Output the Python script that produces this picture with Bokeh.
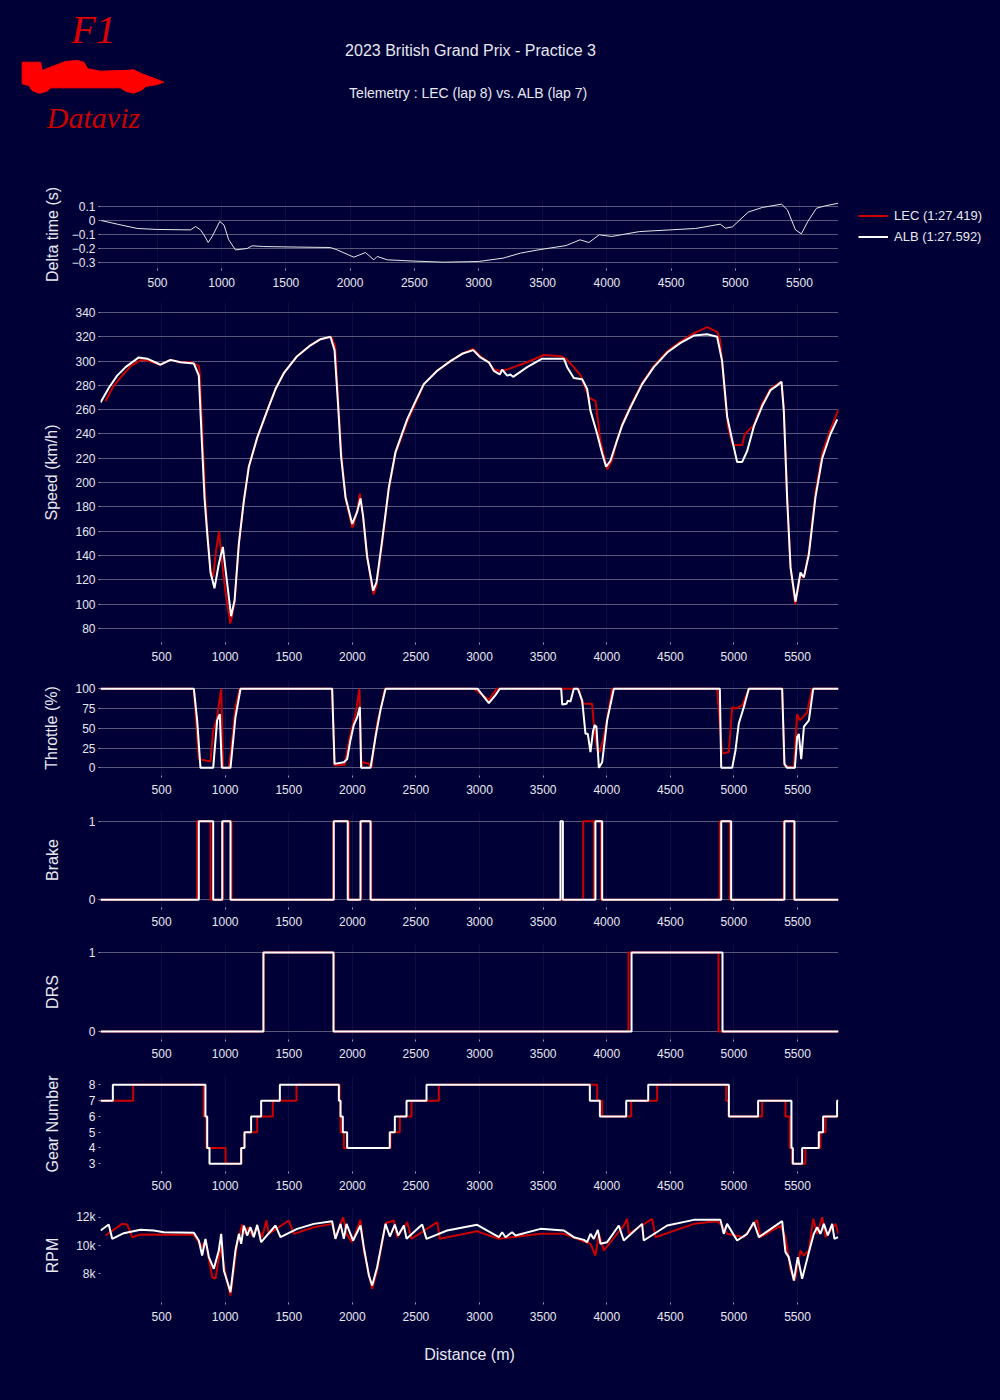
from bokeh.plotting import figure
from bokeh.layouts import column, row
from bokeh.models import Range1d, FixedTicker, Legend, LegendItem
from bokeh.embed import file_html
from bokeh.resources import INLINE
from bokeh.core.properties import value

# ---------------- texts ----------------
TITLE = "2023 British Grand Prix - Practice 3"
SUBTITLE = "Telemetry :  LEC (lap 8) vs. ALB (lap 7)"
LEC_LABEL = "LEC (1:27.419)"
ALB_LABEL = "ALB (1:27.592)"
X_TICKS = [500, 1000, 1500, 2000, 2500, 3000, 3500, 4000, 4500, 5000, 5500]

# ---------------- data (distance m, value) ----------------
delta_pts = [(61, 0), (186, -0.026), (342, -0.057), (497, -0.064), (757, -0.067), (796, -0.043),
             (835, -0.067), (861, -0.102), (895, -0.157), (926, -0.114), (985, -0.007), (1017, -0.031),
             (1055, -0.138), (1107, -0.21), (1198, -0.2), (1237, -0.181), (1328, -0.186), (1588, -0.19),
             (1847, -0.193), (1899, -0.21), (2029, -0.262), (2120, -0.229), (2185, -0.281), (2211, -0.257),
             (2289, -0.281), (2496, -0.29), (2730, -0.298), (3000, -0.293), (3191, -0.269), (3328, -0.233),
             (3464, -0.21), (3682, -0.179), (3791, -0.138), (3860, -0.157), (3941, -0.102), (4037, -0.114),
             (4255, -0.079), (4692, -0.057), (4883, -0.026), (4924, -0.055), (4978, -0.045), (5101, 0.06),
             (5210, 0.093), (5360, 0.117), (5406, 0.076), (5469, -0.067), (5515, -0.095), (5565, -0.007),
             (5633, 0.088), (5701, 0.105), (5805, 0.124)]

alb_speed = [(20, 266), (86, 278), (151, 288), (217, 295), (321, 303), (387, 302), (492, 297), (570, 301),
             (649, 299), (754, 298), (793, 288), (819, 229), (838, 187), (859, 158), (885, 126), (916, 113),
             (950, 133), (982, 147), (1016, 117), (1047, 90), (1074, 103), (1108, 150), (1147, 185),
             (1186, 213), (1252, 237), (1330, 259), (1396, 277), (1461, 290), (1566, 304), (1671, 313),
             (1750, 318), (1828, 320), (1860, 309), (1886, 267), (1912, 221), (1946, 188), (1999, 166),
             (2038, 176), (2064, 187), (2085, 172), (2116, 139), (2164, 111), (2190, 118), (2234, 152),
             (2287, 196), (2339, 225), (2431, 252), (2497, 267), (2562, 281), (2667, 292), (2771, 300),
             (2863, 306), (2950, 309), (3007, 303), (3073, 299), (3112, 292), (3159, 289), (3178, 293),
             (3217, 288), (3243, 289), (3264, 287), (3374, 295), (3492, 302), (3663, 302), (3689, 295),
             (3741, 286), (3807, 285), (3846, 277), (3872, 259), (3925, 240), (3964, 224), (3995, 213),
             (4029, 218), (4082, 235), (4121, 247), (4187, 262), (4278, 281), (4370, 295), (4475, 307),
             (4580, 315), (4685, 321), (4790, 322), (4868, 320), (4907, 300), (4947, 254), (4986, 235),
             (5025, 217), (5065, 217), (5104, 226), (5156, 246), (5222, 263), (5287, 276), (5340, 280),
             (5374, 283), (5392, 259), (5419, 185), (5445, 130), (5484, 102), (5523, 126), (5550, 122),
             (5589, 141), (5641, 188), (5694, 220), (5759, 240), (5812, 252)]

lec_speed = [(59, 267), (120, 279), (190, 288), (260, 296), (340, 301), (400, 300), (492, 297), (570, 301),
             (649, 299), (740, 299), (793, 296), (800, 290), (825, 230), (845, 185), (862, 158), (885, 128),
             (905, 122), (930, 145), (952, 160), (970, 140), (1000, 112), (1040, 84), (1050, 88), (1075, 102),
             (1108, 150), (1147, 185), (1186, 213), (1252, 237), (1330, 259), (1396, 277), (1461, 290),
             (1566, 304), (1671, 313), (1750, 318), (1835, 320), (1865, 312), (1890, 265), (1915, 221),
             (1950, 185), (1999, 163), (2010, 165), (2040, 178), (2058, 191), (2080, 175), (2116, 140),
             (2158, 112), (2166, 108), (2190, 115), (2234, 150), (2287, 195), (2339, 224), (2431, 250),
             (2500, 266), (2562, 281), (2667, 292), (2771, 300), (2863, 306), (2950, 310), (3007, 304),
             (3073, 299), (3112, 293), (3159, 292), (3217, 293), (3374, 299), (3505, 305), (3637, 304),
             (3680, 302), (3741, 295), (3795, 288), (3860, 270), (3912, 267), (3950, 234), (4003, 211),
             (4040, 218), (4082, 235), (4121, 248), (4187, 263), (4278, 282), (4370, 296), (4475, 308),
             (4580, 316), (4685, 323), (4790, 328), (4868, 324), (4890, 318), (4907, 300), (4935, 265),
             (4955, 245), (4990, 231), (5065, 231), (5085, 240), (5156, 247), (5222, 265), (5287, 277),
             (5340, 281), (5374, 283), (5392, 262), (5419, 187), (5445, 131), (5481, 100), (5523, 124),
             (5550, 122), (5589, 143), (5641, 192), (5694, 224), (5759, 244), (5822, 260)]

alb_throttle = [(20, 100), (754, 100), (780, 60), (806, 0), (906, 0), (937, 60), (958, 68), (974, 0),
                (1042, 0), (1081, 64), (1121, 100), (1841, 100), (1860, 5), (1933, 7), (1959, 11),
                (1985, 35), (2011, 54), (2038, 64), (2059, 77), (2069, 0), (2143, 0), (2182, 39),
                (2221, 73), (2261, 100), (2985, 100), (3073, 82), (3125, 92), (3159, 100), (3642, 100),
                (3650, 80), (3684, 81), (3694, 85), (3715, 84), (3741, 100), (3773, 100), (3807, 85),
                (3833, 43), (3851, 43), (3872, 20), (3893, 47), (3906, 54), (3919, 52), (3938, 0),
                (3964, 7), (4003, 60), (4056, 100), (4889, 100), (4900, 0), (4986, 0), (5012, 22),
                (5038, 56), (5078, 77), (5117, 100), (5379, 100), (5397, 5), (5418, 0), (5479, 0),
                (5497, 39), (5510, 43), (5529, 11), (5550, 52), (5589, 60), (5623, 100), (5822, 100)]

lec_throttle = [(20, 100), (754, 100), (793, 11), (885, 8), (906, 47), (932, 60), (969, 100), (984, 0),
                (1029, 0), (1055, 35), (1081, 77), (1115, 100), (1841, 100), (1860, 3), (1940, 4),
                (1980, 39), (2025, 68), (2056, 100), (2072, 0), (2080, 7), (2130, 5), (2150, 0),
                (2195, 56), (2234, 83), (2256, 100), (2955, 100), (3073, 86), (3135, 100), (3781, 100),
                (3807, 81), (3885, 81), (3898, 56), (3925, 22), (3946, 20), (3977, 39), (4003, 62),
                (4043, 100), (4868, 100), (4907, 18), (4960, 20), (4986, 77), (5012, 75), (5065, 79),
                (5117, 100), (5379, 100), (5397, 3), (5471, 0), (5497, 68), (5518, 60), (5575, 70),
                (5615, 100), (5822, 100)]

# braking / DRS active intervals (start m, end m)
alb_brake = [(793, 906), (977, 1042), (1854, 1964), (2064, 2143), (3636, 3655), (3911, 3964),
             (4900, 4978), (5397, 5476)]
lec_brake = [(780, 885), (984, 1050), (1849, 1972), (2069, 2148), (3815, 3900), (3905, 3955),
             (4889, 4968), (5392, 5471)]
alb_drs = [(1301, 1852), (4195, 4910)]
lec_drs = [(1301, 1852), (4171, 4879)]

# gear changes (distance m, gear engaged)
alb_gear = [(20, 7), (117, 8), (845, 6), (859, 4), (877, 3), (1126, 4), (1152, 5), (1204, 6), (1283, 7),
            (1430, 8), (1894, 7), (1907, 6), (1925, 5), (1959, 4), (2294, 5), (2334, 6), (2426, 7),
            (2583, 8), (3867, 7), (3946, 6), (4153, 7), (4326, 8), (4960, 6), (5190, 7), (5452, 4),
            (5463, 3), (5536, 4), (5667, 5), (5701, 6), (5811, 7)]
lec_gear = [(20, 7), (277, 8), (832, 6), (853, 4), (1003, 3), (1126, 4), (1152, 5), (1252, 6), (1375, 7),
            (1561, 8), (1900, 7), (1907, 5), (1933, 4), (2300, 5), (2373, 6), (2465, 7), (2680, 8),
            (3925, 7), (3964, 6), (4192, 7), (4396, 8), (4939, 7), (4960, 6), (5222, 7), (5405, 6),
            (5439, 4), (5458, 3), (5562, 4), (5680, 5), (5720, 6)]

alb_rpm = [(20, 11059), (85, 11482), (112, 10470), (203, 10870), (334, 11106), (439, 11059), (518, 10941),
           (754, 10894), (793, 10353), (819, 9294), (845, 10470), (872, 9176), (911, 8353), (950, 9647),
           (969, 10824), (990, 8235), (1042, 6706), (1081, 9647), (1108, 10824), (1126, 10118),
           (1147, 11412), (1173, 10706), (1199, 11294), (1225, 10588), (1252, 11459), (1283, 10235),
           (1396, 11412), (1435, 10588), (1566, 11176), (1697, 11529), (1841, 11718), (1867, 10470),
           (1907, 11529), (1933, 10470), (1954, 11529), (2006, 10353), (2064, 11412), (2090, 9882),
           (2130, 7882), (2156, 7176), (2195, 8470), (2261, 11529), (2295, 10635), (2334, 11482),
           (2360, 10706), (2405, 11412), (2426, 10470), (2549, 11482), (2583, 10470), (2745, 11059),
           (2981, 11459), (3152, 10588), (3178, 10941), (3204, 10588), (3256, 10941), (3283, 10706),
           (3479, 11176), (3663, 11059), (3741, 10588), (3820, 10400), (3846, 10235), (3872, 10824),
           (3898, 10470), (3930, 11106), (3951, 10118), (4003, 10235), (4095, 11412), (4134, 10353),
           (4278, 11529), (4291, 10353), (4475, 11412), (4685, 11812), (4894, 11812), (4920, 10824),
           (4946, 11529), (5025, 10353), (5104, 10824), (5156, 11647), (5196, 10588), (5379, 11718),
           (5405, 9529), (5431, 9176), (5471, 7529), (5502, 9176), (5536, 7647), (5589, 9529),
           (5628, 10824), (5654, 11294), (5680, 10824), (5707, 11529), (5738, 10706), (5772, 11529),
           (5790, 10470), (5819, 10588)]

lec_rpm = [(59, 10706), (190, 11529), (230, 11482), (269, 10588), (334, 10776), (754, 10753), (819, 9882),
           (845, 10353), (898, 7765), (924, 7647), (963, 9882), (1003, 8000), (1042, 6470), (1094, 10118),
           (1134, 11482), (1147, 10824), (1186, 11294), (1212, 10706), (1252, 11294), (1290, 10588),
           (1325, 11765), (1343, 10824), (1500, 11765), (1540, 10824), (1697, 11294), (1841, 11529),
           (1867, 10588), (1928, 12000), (1954, 10824), (1998, 10235), (2064, 11812), (2090, 9647),
           (2156, 6941), (2195, 8235), (2261, 11576), (2326, 11765), (2353, 10588), (2431, 11647),
           (2465, 10470), (2667, 11647), (2688, 10470), (2981, 11012), (3152, 10470), (3479, 10824),
           (3663, 10824), (3767, 10470), (3872, 10118), (3911, 9294), (3938, 10824), (3977, 9647),
           (4134, 11412), (4160, 11882), (4174, 10824), (4357, 11882), (4383, 10588), (4685, 11529),
           (4868, 11718), (4907, 11412), (4946, 10824), (5078, 10588), (5182, 11812), (5209, 10588),
           (5366, 11412), (5405, 10588), (5445, 8235), (5479, 7529), (5523, 9647), (5549, 9294),
           (5589, 9647), (5623, 11882), (5654, 10824), (5694, 12000), (5720, 10588), (5798, 11529),
           (5822, 10824)]

X_START, X_END = 20, 5822

# ---------------- style ----------------
BG = "#000037"
RED = "#cc0000"
WHITE = "#ffffff"
TXT = "#e8e8f0"
GRID = "#58587a"
VGRID = "#0d0d48"
FONT = "Liberation Sans"
W = 992
LEG_W = 154


def unzip(pts):
    return [p[0] for p in pts], [p[1] for p in pts]


def intervals_to_steps(intervals, start, end):
    xs, ys = [start], [0]
    for a, b in intervals:
        xs += [a, b]
        ys += [1, 0]
    xs.append(end)
    ys.append(0)
    return xs, ys


def gear_steps(pts, end):
    xs, ys = unzip(pts)
    return xs + [end], ys + [ys[-1]]


def make_panel(height, top, bottom, xr, yr, yticks, ylabel, standoff, overrides=None, ygrid=True,
               width=W, right=LEG_W):
    p = figure(width=width, height=height, x_range=Range1d(*xr), y_range=Range1d(*yr),
               output_backend="svg", toolbar_location=None,
               min_border_left=100, min_border_right=right, min_border_top=top, min_border_bottom=bottom,
               background_fill_color=BG, border_fill_color=BG, outline_line_color=None)
    p.xaxis.ticker = FixedTicker(ticks=X_TICKS)
    p.yaxis.ticker = FixedTicker(ticks=yticks)
    for ax in (p.xaxis[0], p.yaxis[0]):
        ax.axis_line_color = None
        ax.major_tick_line_color = "#9a9ab0"
        ax.major_tick_out = 2
        ax.major_tick_in = 0
        ax.minor_tick_line_color = None
        ax.major_label_text_color = TXT
        ax.major_label_text_font = FONT
        ax.major_label_text_font_size = "12px"
        ax.axis_label_text_font = FONT
        ax.axis_label_text_font_size = "16px"
        ax.axis_label_text_font_style = "normal"
        ax.axis_label_text_color = TXT
    p.xaxis.major_label_standoff = 7
    p.yaxis.major_label_standoff = 3
    p.yaxis.axis_label = ylabel
    p.yaxis.axis_label_standoff = standoff
    if overrides:
        p.yaxis.major_label_overrides = overrides
    p.ygrid.grid_line_color = GRID if ygrid else None
    p.xgrid.grid_line_color = VGRID
    return p


# ---------------- header ----------------
HEAD_H = 186
head = figure(width=W, height=HEAD_H, x_range=Range1d(0, W), y_range=Range1d(HEAD_H, 0),
              output_backend="svg", toolbar_location=None, min_border=0,
              background_fill_color=BG, border_fill_color=BG, outline_line_color=None)
head.axis.visible = False
head.grid.visible = False
head.text(x=[470], y=[50], text=[TITLE], text_align="center", text_baseline="middle",
          text_font=value(FONT), text_font_size="16px", text_color=TXT)
head.text(x=[470], y=[92], text=[SUBTITLE], text_align="center", text_baseline="middle",
          text_font=value(FONT), text_font_size="14px", text_color=TXT)
# logo
head.text(x=[93], y=[29], text=["F1"], text_align="center", text_baseline="middle",
          text_font=value("Liberation Serif"), text_font_style="italic", text_font_size="40px",
          text_color="#dd0000")
head.text(x=[93], y=[117], text=["Dataviz"], text_align="center", text_baseline="middle",
          text_font=value("Liberation Serif"), text_font_style="italic", text_font_size="30px",
          text_color="#cc0000")
car_x = [21.7, 40, 41.7, 50, 65, 76.7, 83.3, 87.3, 100, 123.3, 133.3, 140, 153.3, 163.3, 156.7, 145,
         141.7, 133.3, 125, 120, 50, 46.7, 38.3, 31.7, 28.3, 21.7]
car_y = [61.7, 61.7, 70, 66.7, 61, 60, 61.7, 68.3, 70.7, 70, 69.3, 72.7, 77.7, 81.7, 84, 86,
         89.3, 92.7, 90.7, 87.3, 87.3, 90.7, 92.7, 90, 85, 83.3]
head.patch(car_x, car_y, fill_color="#ff0000", line_color="#ff0000")

# ---------------- delta ----------------
p_delta = make_panel(112, 14, 30, (56, 5804), (-0.343, 0.143), [-0.3, -0.2, -0.1, 0, 0.1],
                     "Delta time (s)", 8,
                     overrides={0.1: "0.1", 0.0: "0", -0.1: "\u22120.1", -0.2: "\u22120.2", -0.3: "\u22120.3"},
                     width=W - LEG_W, right=0)
dx, dy = unzip(delta_pts)
p_delta.line(dx, dy, color="#e6e6e6", line_width=1)

# legend (own small figure to the right of the delta panel)
leg_fig = figure(width=LEG_W, height=112, x_range=Range1d(0, 1), y_range=Range1d(0, 1),
                 output_backend="svg", toolbar_location=None,
                 min_border_left=0, min_border_right=0, min_border_top=14, min_border_bottom=30,
                 background_fill_color=BG, border_fill_color=BG, outline_line_color=None)
leg_fig.axis.visible = False
leg_fig.grid.visible = False
nan = float("nan")
r_lec = leg_fig.line(x=[nan], y=[nan], color=RED, line_width=2)
r_alb = leg_fig.line(x=[nan], y=[nan], color=WHITE, line_width=2)
legend = Legend(items=[LegendItem(label=LEC_LABEL, renderers=[r_lec]),
                       LegendItem(label=ALB_LABEL, renderers=[r_alb])],
                location=(10, 11), padding=10, margin=0, spacing=0,
                glyph_width=30, glyph_height=21, label_height=21, label_standoff=6,
                label_text_font=FONT, label_text_font_size="13px", label_text_color=TXT,
                background_fill_alpha=0, border_line_alpha=0)
leg_fig.add_layout(legend)

# ---------------- speed ----------------
p_speed = make_panel(374, 4, 30, (X_START, X_END), (68.4, 348.2), list(range(80, 341, 20)),
                     "Speed (km/h)", 12)
x, y = unzip(lec_speed)
p_speed.line(x, y, color=RED, line_width=2)
x, y = unzip(alb_speed)
p_speed.line(x, y, color=WHITE, line_width=2)

# ---------------- throttle ----------------
p_thr = make_panel(133, 8, 30, (X_START, X_END), (-9.7, 110.5), [0, 25, 50, 75, 100], "Throttle (%)", 12)
x, y = unzip(lec_throttle)
p_thr.line(x, y, color=RED, line_width=2)
x, y = unzip(alb_throttle)
p_thr.line(x, y, color=WHITE, line_width=2)

# ---------------- brake ----------------
p_brk = make_panel(132, 7, 30, (X_START, X_END), (-0.098, 1.11), [0, 1], "Brake", 25)
x, y = intervals_to_steps(lec_brake, X_START, X_END)
p_brk.step(x, y, mode="after", color=RED, line_width=2)
x, y = intervals_to_steps(alb_brake, X_START, X_END)
p_brk.step(x, y, mode="after", color=WHITE, line_width=2)

# ---------------- DRS ----------------
p_drs = make_panel(132, 7, 30, (X_START, X_END), (-0.1, 1.1), [0, 1], "DRS", 25)
x, y = intervals_to_steps(lec_drs, X_START, X_END)
p_drs.step(x, y, mode="after", color=RED, line_width=2)
x, y = intervals_to_steps(alb_drs, X_START, X_END)
p_drs.step(x, y, mode="after", color=WHITE, line_width=2)

# ---------------- gear ----------------
p_gear = make_panel(132, 7, 30, (X_START, X_END), (2.51, 8.53), [3, 4, 5, 6, 7, 8], "Gear Number", 25,
                    ygrid=False)
x, y = gear_steps(lec_gear, X_END)
p_gear.step(x, y, mode="after", color=RED, line_width=2)
x, y = gear_steps(alb_gear, X_END)
p_gear.step(x, y, mode="after", color=WHITE, line_width=2)

# ---------------- RPM ----------------
p_rpm = make_panel(174, 7, 73, (X_START, X_END), (5972, 12615), [8000, 10000, 12000], "RPM", 12,
                   overrides={8000: "8k", 10000: "10k", 12000: "12k"}, ygrid=False)
x, y = unzip(lec_rpm)
p_rpm.line(x, y, color=RED, line_width=2)
x, y = unzip(alb_rpm)
p_rpm.line(x, y, color=WHITE, line_width=2)
p_rpm.xaxis.axis_label = "Distance (m)"
p_rpm.xaxis.axis_label_standoff = 22

top_row = row(p_delta, leg_fig, spacing=0)
panels = column(p_speed, p_thr, p_brk, p_drs, p_gear, p_rpm, spacing=0)
layout = column(head, top_row, panels, spacing=0)

html = file_html(layout, INLINE, title="2023 British Grand Prix - Practice 3")
html = html.replace("</head>", "<style>html, body { background-color: %s; }</style></head>" % BG, 1)
open("out.html", "w").write(html)
